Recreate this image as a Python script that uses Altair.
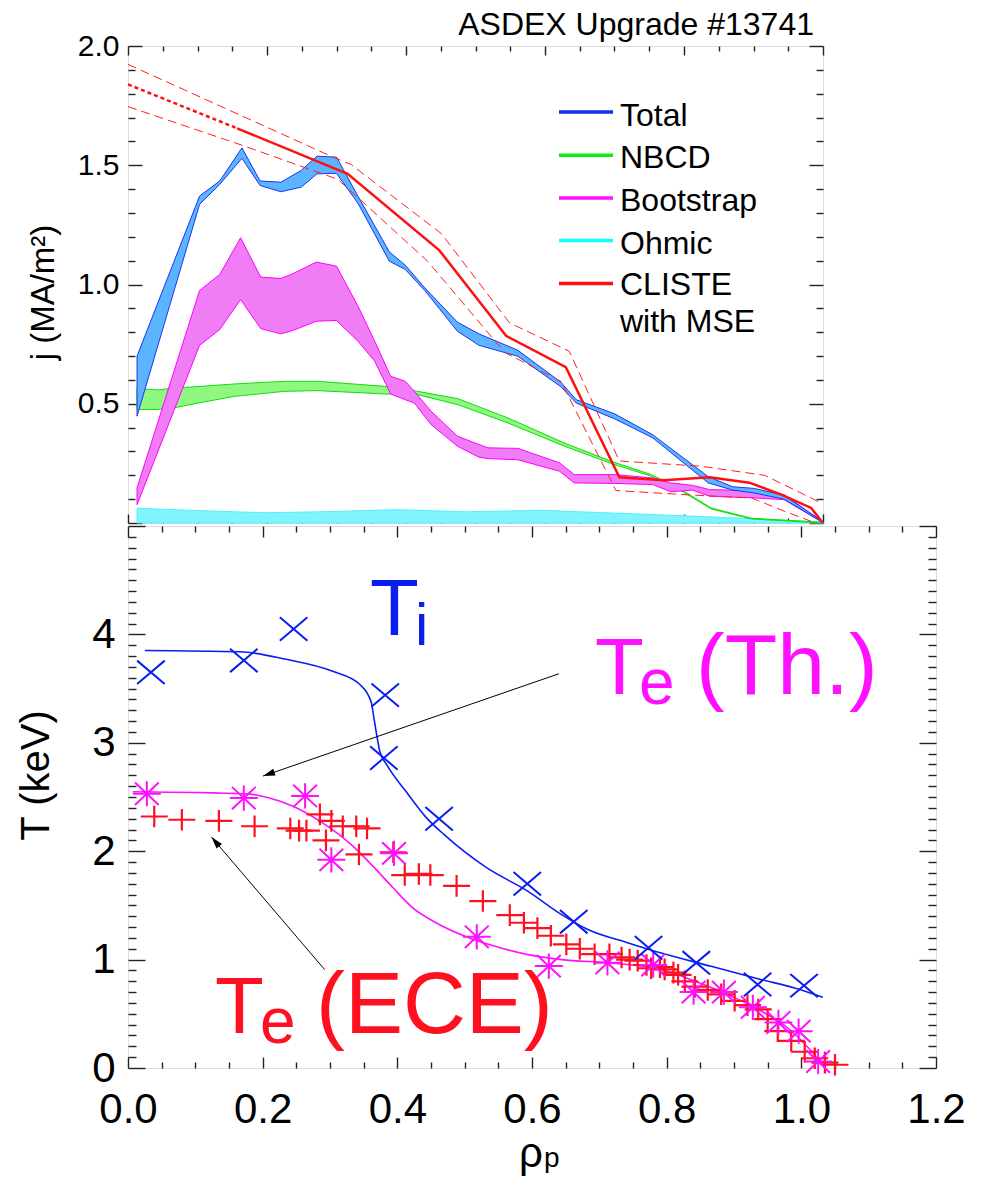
import math
import altair as alt
import pandas as pd

FONT = "Liberation Sans"

# ---------------- top panel: current densities (MA/m^2) ----------------
total_rho = [0.013, 0.103, 0.132, 0.164, 0.190, 0.220, 0.249, 0.272, 0.300, 0.331, 0.376, 0.399,
             0.427, 0.474, 0.505, 0.561, 0.623, 0.645, 0.700, 0.755, 0.835, 0.870, 0.901, 0.944, 0.999]
total_hi = [0.700, 1.371, 1.434, 1.573, 1.434, 1.429, 1.478, 1.538, 1.534, 1.370, 1.137, 1.081,
            0.986, 0.842, 0.793, 0.724, 0.590, 0.517, 0.458, 0.370, 0.194, 0.152, 0.145, 0.116, 0.007]
total_lo = [0.448, 1.336, 1.420, 1.529, 1.415, 1.389, 1.408, 1.464, 1.466, 1.340, 1.098, 1.063,
            0.975, 0.804, 0.745, 0.699, 0.571, 0.503, 0.437, 0.357, 0.168, 0.138, 0.126, 0.100, 0.004]

boot_rho = [0.013, 0.103, 0.132, 0.162, 0.191, 0.220, 0.237, 0.271, 0.300, 0.331, 0.355, 0.378,
            0.399, 0.412, 0.436, 0.474, 0.505, 0.518, 0.561, 0.621, 0.642, 0.700, 0.755, 0.781,
            0.812, 0.837, 0.896, 0.944, 0.999]
boot_hi = [0.147, 0.975, 1.042, 1.196, 1.031, 1.025, 1.045, 1.094, 1.077, 0.909, 0.762, 0.615,
           0.594, 0.552, 0.469, 0.364, 0.329, 0.315, 0.313, 0.252, 0.203, 0.203, 0.189, 0.168,
           0.158, 0.140, 0.136, 0.119, 0.007]
boot_lo = [0.077, 0.745, 0.811, 0.937, 0.815, 0.793, 0.807, 0.846, 0.849, 0.762, 0.678, 0.541,
           0.517, 0.503, 0.413, 0.322, 0.276, 0.270, 0.265, 0.217, 0.168, 0.166, 0.161, 0.131,
           0.138, 0.112, 0.106, 0.098, 0.003]

nbcd_rho = [0.013, 0.043, 0.067, 0.101, 0.153, 0.225, 0.273, 0.369, 0.417, 0.475, 0.547, 0.628,
            0.695, 0.753, 0.800, 0.839, 0.897, 0.999]
nbcd_hi = [0.564, 0.558, 0.566, 0.572, 0.583, 0.594, 0.594, 0.573, 0.552, 0.521, 0.440, 0.335,
           0.259, 0.203, 0.133, 0.063, 0.020, 0.003]
nbcd_lo = [0.476, 0.476, 0.483, 0.503, 0.531, 0.552, 0.555, 0.541, 0.538, 0.496, 0.419, 0.322,
           0.250, 0.196, 0.128, 0.059, 0.017, 0.000]

ohm_rho = [0.013, 0.100, 0.197, 0.293, 0.388, 0.484, 0.597, 0.722, 0.820, 0.896, 1.000]
ohm_hi = [0.062, 0.052, 0.043, 0.048, 0.056, 0.047, 0.053, 0.039, 0.028, 0.018, 0.004]

cliste_rho = [0.157, 0.316, 0.448, 0.544, 0.630, 0.707, 0.771, 0.837, 0.894, 0.940, 0.983, 0.999]
cliste_j = [1.655, 1.464, 1.143, 0.785, 0.653, 0.192, 0.179, 0.192, 0.169, 0.119, 0.063, 0.003]
cliste_ext_rho = [0.0, 0.157]
cliste_ext_j = [1.839, 1.655]
cl_up_rho = [0.0, 0.292, 0.321, 0.451, 0.549, 0.635, 0.707, 0.824, 0.916, 0.983, 0.999]
cl_up_j = [1.923, 1.538, 1.503, 1.213, 0.839, 0.720, 0.260, 0.238, 0.200, 0.105, 0.080]
cl_lo_rho = [0.0, 0.163, 0.302, 0.431, 0.542, 0.623, 0.702, 0.800, 0.897, 0.945, 0.983]
cl_lo_j = [1.746, 1.585, 1.441, 1.098, 0.715, 0.594, 0.136, 0.119, 0.105, 0.049, 0.007]

legend_labels = ["Total", "NBCD", "Bootstrap", "Ohmic", "CLISTE"]
legend_colors = ["#1030F0", "#10EE10", "#FF10FF", "#10FFFF", "#FF1010"]

# ---------------- bottom panel: temperatures (keV) ----------------
ti_rho = [0.034, 0.172, 0.246, 0.382, 0.380, 0.462, 0.593, 0.662, 0.773, 0.844, 0.935, 1.004]
ti_T = [3.65, 3.76, 4.05, 3.44, 2.86, 2.30, 1.70, 1.35, 1.11, 0.97, 0.77, 0.76]

ti_fit_rho = [0.025, 0.166, 0.235, 0.304, 0.344, 0.361, 0.366, 0.370, 0.374, 0.384, 0.413, 0.443,
              0.470, 0.532, 0.594, 0.644, 0.683, 0.743, 0.792, 0.866, 0.941, 0.990, 1.032]
ti_fit_T = [3.852, 3.840, 3.770, 3.660, 3.540, 3.380, 3.200, 3.050, 2.920, 2.800, 2.550, 2.310,
            2.150, 1.850, 1.630, 1.415, 1.277, 1.154, 1.060, 0.938, 0.815, 0.738, 0.652]

teth_rho = [0.028, 0.172, 0.263, 0.302, 0.395, 0.518, 0.625, 0.712, 0.780, 0.840, 0.885, 0.928,
            0.966, 0.996, 1.025]
teth_T = [2.53, 2.49, 2.51, 1.92, 1.98, 1.21, 0.94, 0.97, 0.95, 0.70, 0.70, 0.56, 0.42, 0.34, 0.06]

teth_fit_rho = [0.007, 0.176, 0.210, 0.245, 0.285, 0.334, 0.364, 0.394, 0.423, 0.458, 0.507, 0.545,
                0.594, 0.644, 0.718, 0.792, 0.842, 0.891, 0.941, 0.980, 1.015, 1.035]
teth_fit_T = [2.548, 2.529, 2.490, 2.415, 2.277, 2.046, 1.860, 1.660, 1.477, 1.338, 1.200, 1.123,
              1.046, 1.000, 0.969, 0.908, 0.800, 0.677, 0.523, 0.369, 0.154, 0.000]

ece_rho = [0.039, 0.080, 0.135, 0.188, 0.241, 0.254, 0.265, 0.285, 0.302, 0.319, 0.339, 0.355,
           0.294, 0.343, 0.394, 0.411, 0.432, 0.449, 0.488, 0.527, 0.567, 0.588, 0.608, 0.628,
           0.651, 0.671, 0.693, 0.715, 0.733, 0.745, 0.757, 0.770, 0.777, 0.790, 0.797, 0.810,
           0.817, 0.827, 0.842, 0.861, 0.881, 0.901, 0.920, 0.936, 0.950, 0.965, 0.985, 1.005,
           1.020, 1.035, 1.050]
ece_T = [2.32, 2.29, 2.28, 2.23, 2.21, 2.19, 2.19, 2.34, 2.28, 2.23, 2.23, 2.21,
         2.10, 1.97, 1.99, 1.78, 1.79, 1.78, 1.68, 1.54, 1.41, 1.34, 1.29, 1.22,
         1.14, 1.10, 1.05, 1.05, 1.02, 1.00, 0.99, 0.95, 0.92, 0.93, 0.91, 0.88,
         0.86, 0.80, 0.75, 0.72, 0.68, 0.62, 0.58, 0.54, 0.45, 0.34, 0.25, 0.15,
         0.09, 0.05, 0.03]

# annotation arrows: (from rho, from T) -> (to rho, to T)
arrow_from_rho = [0.640, 0.292]
arrow_from_T = [3.637, 0.908]
arrow_to_rho = [0.2005, 0.124]
arrow_to_T = [2.693, 2.130]

# ---------------- layout ----------------
W1, H1 = 695, 477
W2, H2 = 808, 542
XDOM1, YDOM1 = [0, 1.0], [0, 2.0]
XDOM2, YDOM2 = [0, 1.2], [0, 5.0]
TICK = "#222222"


def frange(a, b, step):
    n = int(round((b - a) / step))
    return [round(a + i * step, 4) for i in range(n + 1)]


def minor_of(allv, major):
    ms = set(round(m, 4) for m in major)
    return [v for v in allv if round(v, 4) not in ms]


def ax(orient, values, size, labels=False, **kw):
    return alt.Axis(orient=orient, values=values, tickSize=size, offset=-size, domain=False,
                    grid=False, labels=labels, ticks=True, tickColor=TICK, tickWidth=1.4,
                    labelFont=FONT, labelColor="black", labelFlush=False, labelOverlap=False,
                    labelBound=False, minExtent=0, **kw)


def axis_layers(xdom, ydom, xmaj, xmin, ymaj, ymin, tx, ty, xaxis_kw, yaxis_kw):
    dummy = pd.DataFrame({"x": [xdom[0]], "y": [ydom[0]]})
    xs = alt.Scale(domain=xdom, nice=False, zero=False)
    ys = alt.Scale(domain=ydom, nice=False, zero=False)

    def lay(xa, ya):
        return alt.Chart(dummy).mark_point(opacity=0).encode(
            x=alt.X("x:Q", scale=xs, axis=xa), y=alt.Y("y:Q", scale=ys, axis=ya))

    l1 = lay(ax("bottom", xmaj, tx[0], **xaxis_kw), ax("left", ymaj, ty[0], **yaxis_kw))
    l2 = lay(ax("bottom", xmin, tx[1], title=None), ax("left", ymin, ty[1], title=None))
    l3 = lay(ax("top", xmaj, tx[0], title=None, maxExtent=0), ax("right", ymaj, ty[0], title=None, maxExtent=0))
    l4 = lay(ax("top", xmin, tx[1], title=None, maxExtent=0), ax("right", ymin, ty[1], title=None, maxExtent=0))
    return [l1, l2, l3, l4], xs, ys


def txt(s, x, y, size, color="black", align="left", baseline="alphabetic"):
    return alt.Chart(pd.DataFrame({"t": [s]})).mark_text(
        font=FONT, fontSize=size, color=color, align=align, baseline=baseline).encode(
        text="t:N", x=alt.value(x), y=alt.value(y))


# ---------------- top panel ----------------
xall1 = frange(0, 1.0, 0.05)
xmaj1 = frange(0, 1.0, 0.2)
yall1 = frange(0, 2.0, 0.1)
ymaj1 = frange(0, 2.0, 0.5)
top_axes, xs1, ys1 = axis_layers(
    XDOM1, YDOM1, xmaj1, minor_of(xall1, xmaj1), ymaj1, minor_of(yall1, ymaj1),
    (9, 5), (14, 7),
    dict(title=None, maxExtent=0),
    dict(labels=True, labelFontSize=30, labelPadding=9, format=".1f",
         labelExpr="datum.value == 0 ? '' : datum.label",
         title="j (MA/m²)", titleFont=FONT, titleFontSize=33, titleFontWeight="normal",
         titleAngle=270, titleX=-99, titleY=246, titleAlign="center", titleBaseline="middle",
         titleColor="black"))


def band(rho, lo, hi, fill, edge):
    df = pd.DataFrame({"rho": rho, "lo": lo, "hi": hi})
    return alt.Chart(df).mark_area(fill=fill, stroke=edge, strokeWidth=1, fillOpacity=1).encode(
        x=alt.X("rho:Q", scale=xs1, axis=None),
        y=alt.Y("lo:Q", scale=ys1, axis=None), y2="hi:Q")


def jline(rho, j, color, width, dash=None):
    df = pd.DataFrame({"rho": rho, "j": j})
    kw = dict(color=color, strokeWidth=width)
    if dash:
        kw["strokeDash"] = dash
    return alt.Chart(df).mark_line(**kw).encode(
        x=alt.X("rho:Q", scale=xs1, axis=None), y=alt.Y("j:Q", scale=ys1, axis=None))


top_layers = list(top_axes)
top_layers.append(band(ohm_rho, [0.0] * len(ohm_rho), ohm_hi, "#80F4FF", "#55EEFF"))
top_layers.append(band(nbcd_rho, nbcd_lo, nbcd_hi, "#90F780", "#10DD10"))
top_layers.append(band(boot_rho, boot_lo, boot_hi, "#F07CF6", "#FF00FF"))
top_layers.append(band(total_rho, total_lo, total_hi, "#5CB4FF", "#1A36F0"))
top_layers.append(jline(cl_up_rho, cl_up_j, "#FF2020", 1, [9, 5]))
top_layers.append(jline(cl_lo_rho, cl_lo_j, "#FF2020", 1, [9, 5]))
top_layers.append(jline(cliste_ext_rho, cliste_ext_j, "#FF1010", 2.5, [4, 3]))
top_layers.append(jline(cliste_rho, cliste_j, "#FF1010", 2.5))

# legend
leg_line_y = [66, 109.3, 152, 194.6, 237.6]
leg_text_y = [80.3, 122, 165.3, 208, 249.3]
for lab, col, ly, ty in zip(legend_labels, legend_colors, leg_line_y, leg_text_y):
    top_layers.append(alt.Chart(pd.DataFrame({"t": [lab]})).mark_rule(
        color=col, strokeWidth=3.5).encode(x=alt.value(431), x2=alt.value(485), y=alt.value(ly)))
    top_layers.append(txt(lab, 492, ty, 32))
top_layers.append(txt("with MSE", 492, 286, 32))
# shot label above the frame
top_layers.append(txt("ASDEX Upgrade #13741", W1 - 9, -11.4, 32, align="right"))

top = alt.layer(*top_layers).resolve_axis(x="independent", y="independent").properties(
    width=W1, height=H1)

# ---------------- bottom panel ----------------
xall2 = frange(0, 1.2, 0.05)
xmaj2 = frange(0, 1.2, 0.2)
yall2 = frange(0, 5.0, 0.1)
ymaj2 = frange(0, 5.0, 1.0)
bot_axes, xs2, ys2 = axis_layers(
    XDOM2, YDOM2, xmaj2, minor_of(xall2, xmaj2), ymaj2, minor_of(yall2, ymaj2),
    (11, 6), (17, 8),
    dict(labels=True, labelFontSize=42, labelPadding=21, format=".1f", title=None),
    dict(labels=True, labelFontSize=42, labelPadding=13, format="d",
         labelExpr="datum.value >= 5 ? '' : datum.label",
         title="T (keV)", titleFont=FONT, titleFontSize=40, titleFontWeight="normal",
         titleAngle=270, titleX=-109, titleY=249, titleAlign="center", titleBaseline="middle",
         titleColor="black"))


def tline(rho, T, color, width):
    df = pd.DataFrame({"rho": rho, "T": T})
    return alt.Chart(df).mark_line(color=color, strokeWidth=width, interpolate="monotone").encode(
        x=alt.X("rho:Q", scale=xs2, axis=None), y=alt.Y("T:Q", scale=ys2, axis=None))


def tpoints(rho, T, color, shape, size, width):
    df = pd.DataFrame({"rho": rho, "T": T})
    return alt.Chart(df).mark_point(shape=shape, size=size, color=color, filled=False,
                                    strokeWidth=width, opacity=1).encode(
        x=alt.X("rho:Q", scale=xs2, axis=None), y=alt.Y("T:Q", scale=ys2, axis=None))


PLUS = "M-1,0L1,0M0,-0.8L0,0.8"
XMARK = "M-1,-0.85L1,0.85M-1,0.85L1,-0.85"
STAR = "M-1,0L1,0M0,-0.9L0,0.9M-0.85,-0.8L0.85,0.8M-0.85,0.8L0.85,-0.8"
HEAD = "M0,0L-0.6,2L0.6,2Z"

BLUE, MAG, RED = "#0A1EF0", "#FF10FF", "#FF1020"

bot_layers = list(bot_axes)
bot_layers.append(tline(ti_fit_rho, ti_fit_T, BLUE, 1.6))
bot_layers.append(tline(teth_fit_rho, teth_fit_T, MAG, 1.6))
bot_layers.append(tpoints(ece_rho, ece_T, RED, PLUS, 729, 2.2))
bot_layers.append(tpoints(teth_rho, teth_T, MAG, STAR, 784, 2.0))
bot_layers.append(tpoints(ti_rho, ti_T, BLUE, XMARK, 760, 2.0))

arr = pd.DataFrame({"r0": arrow_from_rho, "t0": arrow_from_T, "r1": arrow_to_rho, "t1": arrow_to_T})
bot_layers.append(alt.Chart(arr).mark_rule(color="black", strokeWidth=1).encode(
    x=alt.X("r0:Q", scale=xs2, axis=None), y=alt.Y("t0:Q", scale=ys2, axis=None),
    x2="r1:Q", y2="t1:Q"))
for r0, t0, r1, t1 in zip(arrow_from_rho, arrow_from_T, arrow_to_rho, arrow_to_T):
    dx = (r1 - r0) * W2 / (XDOM2[1] - XDOM2[0])
    dy = -(t1 - t0) * H2 / (YDOM2[1] - YDOM2[0])
    ang = math.degrees(math.atan2(dx, -dy)) % 360
    bot_layers.append(alt.Chart(pd.DataFrame({"rho": [r1], "T": [t1]})).mark_point(
        shape=HEAD, size=144, filled=True, color="black", opacity=1, angle=ang).encode(
        x=alt.X("rho:Q", scale=xs2, axis=None), y=alt.Y("T:Q", scale=ys2, axis=None)))

# species labels
bot_layers.append(txt("T", 242, 109, 80, BLUE))
bot_layers.append(txt("i", 287, 119, 60, BLUE))
bot_layers.append(txt("T", 467, 168, 80, MAG))
bot_layers.append(txt("e", 511, 178, 64, MAG))
bot_layers.append(txt("(Th.)", 568, 168, 86, MAG))
bot_layers.append(txt("T", 87, 507, 80, RED))
bot_layers.append(txt("e", 132, 517, 64, RED))
bot_layers.append(txt("(ECE)", 188, 507, 87, RED))
# x-axis title rho_p
bot_layers.append(txt("ρ", 391, 641, 42))
bot_layers.append(txt("p", 416, 641, 28))

bottom = alt.layer(*bot_layers).resolve_axis(x="independent", y="independent").properties(
    width=W2, height=H2)

chart = alt.vconcat(top, bottom, spacing=3, bounds="flush").properties(
    padding={"left": 15, "top": 8, "right": 5, "bottom": 2}
).configure_view(stroke="#222222", strokeWidth=1.6).configure(background="white", font=FONT)

chart.save("out.html", embed_options={"renderer": "svg", "actions": False})
